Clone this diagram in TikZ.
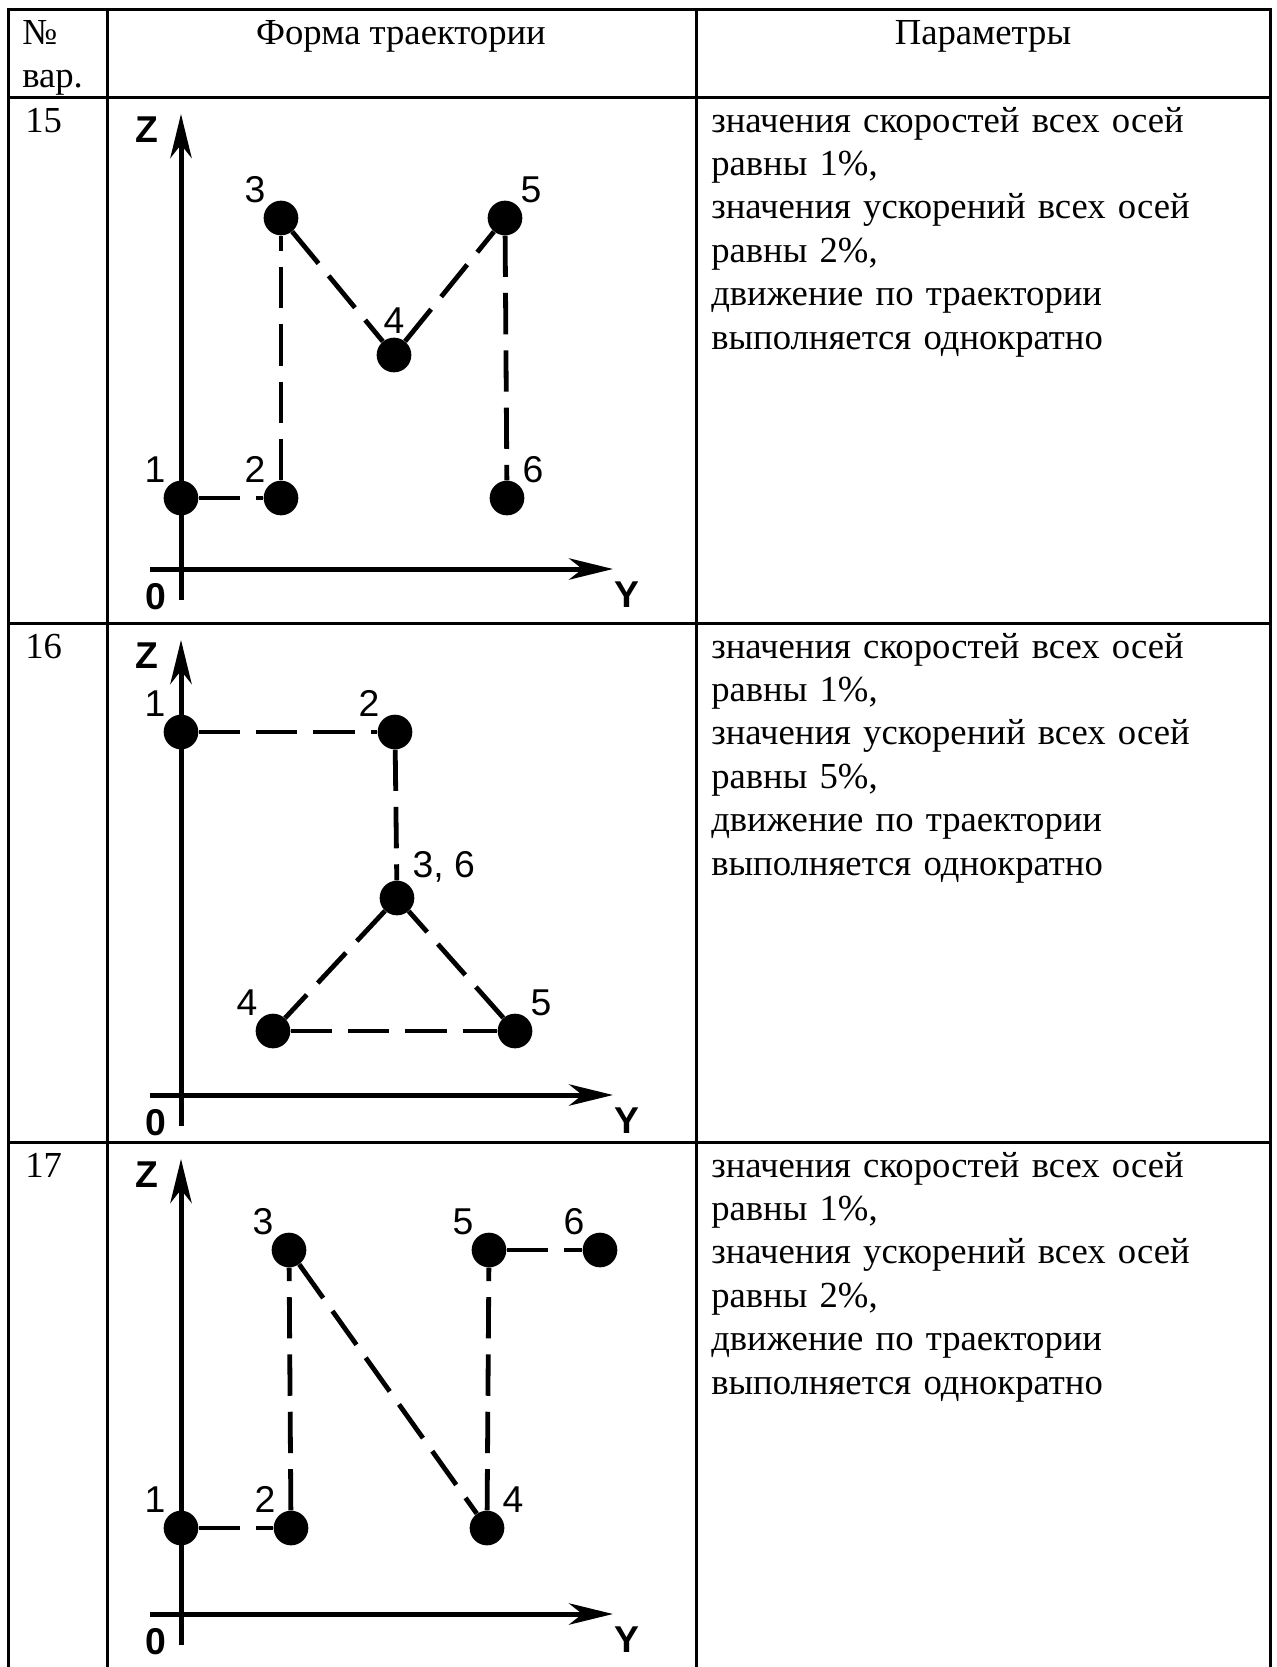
\documentclass[tikz,border=0pt]{standalone}
\usepackage{fontspec}
\setmainfont{Liberation Serif}
\newfontfamily\axisfont{Liberation Sans}
\usetikzlibrary{arrows.meta,positioning}

\tikzset{
  grid/.style={line width=2.25pt},
  axis/.style={line width=3.75pt,->},
  traj/.style={line width=3.6pt,dash pattern=on 31pt off 12pt},
  dot/.style={circle,fill,inner sep=0pt,minimum size=26pt},
  num/.style={font=\axisfont\fontsize{28}{28}\selectfont,inner sep=0pt},
  lbl/.style={font=\axisfont\bfseries\fontsize{28}{28}\selectfont,inner sep=0pt},
  cell/.style={font=\fontsize{27.5}{32.6}\selectfont,inner sep=0pt,anchor=base west}
}

\begin{document}
\begin{tikzpicture}[x=0.75pt,y=-0.75pt,>={Stealth[length=33pt,width=16pt,inset=10pt]}]
  \useasboundingbox (0,0) rectangle (1277,1667);

  \draw[grid] (8,1667) -- (8,9) -- (1270,9) -- (1270,1667);
  \foreach \x in {107,696} \draw[grid] (\x,9) -- (\x,1667);
  \foreach \y in {97,623,1142} \draw[grid] (8,\y) -- (1270,\y);

  \node[cell,text width=70pt] (hnum) at (22,44) {№\\вар.};
  \node[cell,anchor=base] (hform) at (401,44) {Форма траектории};
  \node[cell,anchor=base] (hpar) at (983,44) {Параметры};

  \foreach \n/\t/\a in {15/97/2,16/623/5,17/1142/2} {
    \node[cell] (r\n) at (25,\t+35) {\n};
    \node[cell,text width=420pt,align=left] (par\n) at (711,\t+35)
      {значения скоростей всех осей\\равны 1\%,\\значения ускорений всех осей\\равны \a\%,\\движение по траектории\\выполняется однократно};
    \coordinate (zb\n) at (181,\t+503);
    \coordinate (zt\n) at (181,\t+17);
    \coordinate (yb\n) at (150,\t+472);
    \coordinate (yt\n) at (613,\t+472);
    \draw[axis] (zb\n) -- (zt\n);
    \draw[axis] (yb\n) -- (yt\n);
    \node[lbl] (z\n) at (147,\t+33) {Z};
    \node[lbl] (o\n) at (156,\t+500) {0};
    \node[lbl] (y\n) at (627,\t+498) {Y};
  }

  \foreach \i/\x/\y/\p in {1/181/498/above left,2/281/498/above left,3/281/218/above left,
      4/394/355/above,5/505/218/above right,6/507/498/above right} {
    \node[dot] (a\i) at (\x,\y) {};
    \node[num,\p=3pt of a\i] (la\i) {\i};
  }
  \path[traj] (a1) edge (a2) (a2) edge (a3) (a3) edge (a4) (a4) edge (a5) (a5) edge (a6);

  \foreach \i/\x/\y/\p/\l in {1/181/732/above left/1,2/395/732/above left/2,
      3/397/898/above right/{3, 6},4/273/1031/above left/4,5/515/1031/above right/5} {
    \node[dot] (b\i) at (\x,\y) {};
    \node[num,\p=3pt of b\i] (lb\i) {\l};
  }
  \path[traj] (b1) edge (b2) (b2) edge (b3) (b3) edge (b4) (b4) edge (b5) (b5) edge (b3);

  \foreach \i/\x/\y/\p in {1/181/1528/above left,2/291/1528/above left,3/289/1250/above left,
      4/487/1528/above right,5/489/1250/above left,6/600/1250/above left} {
    \node[dot] (c\i) at (\x,\y) {};
    \node[num,\p=3pt of c\i] (lc\i) {\i};
  }
  \path[traj] (c1) edge (c2) (c2) edge (c3) (c3) edge (c4) (c4) edge (c5) (c5) edge (c6);
\end{tikzpicture}
\end{document}
